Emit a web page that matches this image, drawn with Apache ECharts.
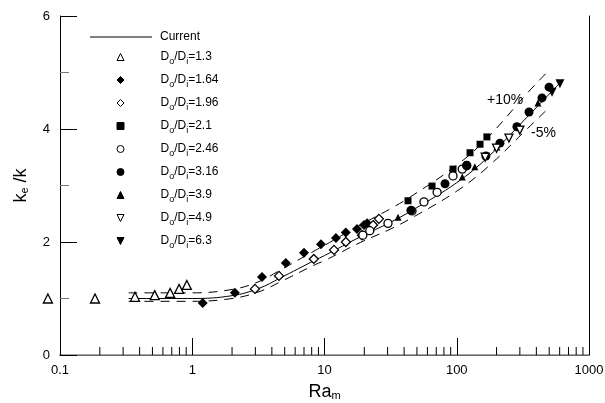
<!DOCTYPE html>
<html><head><meta charset="utf-8">
<script src="https://cdn.jsdelivr.net/npm/echarts@6/dist/echarts.min.js"></script>
<style>html,body{margin:0;padding:0;background:#fff}#c{width:605px;height:403px}</style>
</head><body><div id="c"></div>
<script>
// ---- data ----
const xTickLabels = ['0.1','1','10','100','1000'];
const yTickLabels = ['0','2','4','6'];
const xMinorTicks = [0.2,0.3,0.4,0.5,0.6,0.7,0.8,0.9,2,3,4,5,6,7,8,9,20,30,40,50,60,70,80,90,200,300,400,500,600,700,800,900];

const curveRa   = [0.33, 1, 2, 3.2, 4.6, 8.5, 10, 18.6, 31.6, 46.8, 100, 170, 340, 600];
const currentK  = [1.00, 1.00, 1.05, 1.18, 1.36, 1.68, 1.76, 2.09, 2.35, 2.57, 3.05, 3.49, 4.21, 4.81];
const bandRa    = [0.33, 1, 2, 3.2, 4.6, 8.5, 10, 18.6, 31.6, 46.8, 100, 170, 340, 480];
const upperK    = [1.10, 1.10, 1.16, 1.30, 1.50, 1.85, 1.94, 2.30, 2.59, 2.83, 3.36, 3.84, 4.63, 5.00];
const lowerK    = [0.95, 0.95, 1.00, 1.12, 1.29, 1.60, 1.67, 1.99, 2.23, 2.44, 2.90, 3.32, 4.00, 4.34];

const d13  = [[0.081,1.0],[0.184,1.0],[0.369,1.03],[0.52,1.06],[0.68,1.10],[0.795,1.17],[0.91,1.24]];
const d164 = [[1.2,0.92],[2.1,1.10],[3.37,1.38],[5.1,1.63],[7.0,1.81],[9.4,1.96],[12.2,2.07],[14.5,2.17],[17.6,2.23],[19.9,2.30],[21,2.33]];
const d196 = [[2.98,1.17],[4.53,1.40],[8.3,1.70],[11.8,1.86],[14.5,2.0],[19.2,2.12],[23.3,2.30],[25.8,2.41]];
const d21  = [[42.8,2.73],[65,2.99],[93.7,3.29],[126,3.58],[150,3.73],[169,3.86]];
const d246 = [[19.5,2.12],[22,2.2],[30.2,2.33],[45.9,2.55],[56.5,2.71],[71,2.88],[93.7,3.17],[110,3.29],[119,3.35]];
const d316 = [[45,2.56],[81.5,3.03],[119,3.36],[166,3.52],[212,3.75],[285,4.04],[352,4.30],[441,4.55],[499,4.74]];
const d39  = [[36,2.44],[110,3.15],[137,3.33],[201,3.68],[411,4.46]];
const d49  = [[164,3.5],[200,3.66],[248,3.84],[300,3.98]];
const d63  = [[525,4.65],[603,4.80]];

const legendNames = ['D{s|o}/D{s|i}=1.3','D{s|o}/D{s|i}=1.64','D{s|o}/D{s|i}=1.96','D{s|o}/D{s|i}=2.1','D{s|o}/D{s|i}=2.46','D{s|o}/D{s|i}=3.16','D{s|o}/D{s|i}=3.9','D{s|o}/D{s|i}=4.9','D{s|o}/D{s|i}=6.3'];

const zip = (xs, ys) => xs.map((x, i) => [x, ys[i]]);
const FONT = 'Liberation Sans, Arial, sans-serif';
const DOWN_TRI = 'path://M0,0 L10,0 L5,10 Z';

function sc(name, data, symbol, size, filled, rotate) {
  return {
    type: 'scatter', name, data, symbol, symbolSize: size, symbolRotate: rotate || 0,
    clip: false, z: 5,
    itemStyle: { color: filled ? '#000' : '#fff', borderColor: '#000', borderWidth: filled ? 0 : 1.3, opacity: 1 }
  };
}

const chart = echarts.init(document.getElementById('c'));
chart.setOption({
  animation: false,
  backgroundColor: '#fff',
  grid: { left: 60, right: 16, top: 16, bottom: 48, outerBoundsMode: 'none', containLabel: false },
  xAxis: [{
    type: 'log', logBase: 10, min: 0.1, max: 1000,
    axisLine: { lineStyle: { color: '#000', width: 1 } },
    axisTick: { inside: true, length: 17, lineStyle: { color: '#000' } },
    minorTick: { show: false },
    splitLine: { show: false },
    axisLabel: { color: '#000', fontFamily: FONT, fontSize: 13, margin: 9,
      formatter: (v) => { const i = Math.round(Math.log10(v)) + 1; return xTickLabels[i] || ''; } },
    name: 'Ra{s|m}', nameLocation: 'middle', nameGap: 28,
    nameTextStyle: { color: '#000', fontFamily: FONT, fontSize: 18,
      rich: { s: { fontSize: 11, verticalAlign: 'bottom', lineHeight: 10, fontFamily: FONT, color: '#000' } } }
  }, {
    type: 'log', logBase: 10, min: 0.1, max: 1000, position: 'top',
    axisLine: { lineStyle: { color: '#888', width: 1.5 } },
    axisTick: { show: false }, axisLabel: { show: false }, splitLine: { show: false }
  }],
  yAxis: [{
    type: 'value', min: 0, max: 6, interval: 2,
    axisLine: { show: true, lineStyle: { color: '#000', width: 1 } },
    axisTick: { inside: true, length: 17, lineStyle: { color: '#000' } },
    minorTick: { show: true, splitNumber: 2, length: 9, lineStyle: { color: '#777' } },
    splitLine: { show: false },
    axisLabel: { color: '#000', fontFamily: FONT, fontSize: 13, margin: 10,
      formatter: (v) => yTickLabels[Math.round(v / 2)] },
    name: 'k{s|e} /k', nameLocation: 'middle', nameGap: 30, nameRotate: 90,
    nameTextStyle: { color: '#000', fontFamily: FONT, fontSize: 18,
      rich: { s: { fontSize: 11, verticalAlign: 'bottom', lineHeight: 10, fontFamily: FONT, color: '#000' } } }
  }, {
    type: 'value', min: 0, max: 6, position: 'right',
    axisLine: { show: true, lineStyle: { color: '#000', width: 1 } },
    axisTick: { show: false }, axisLabel: { show: false }, splitLine: { show: false }
  }],
  legend: [{
    left: 85, top: 26, itemWidth: 62, itemHeight: 1, icon: 'rect',
    data: ['Current'],
    formatter: (n) => '{sp|}' + n,
    textStyle: { color: '#000', fontFamily: FONT, fontSize: 12, rich: { sp: { width: 3 } } }
  }, {
    orient: 'vertical', left: 111.5, top: 43, itemWidth: 7, itemHeight: 7, itemGap: 5,
    itemStyle: { borderWidth: 1 },
    data: legendNames.map((n, i) => i >= 7 ? { name: n, icon: DOWN_TRI } : n),
    formatter: (n) => '{sp|}' + n,
    textStyle: { color: '#000', fontFamily: FONT, fontSize: 12, lineHeight: 18,
      rich: { sp: { width: 31.5 },
              s: { fontSize: 9, verticalAlign: 'bottom', lineHeight: 9, fontFamily: FONT, color: '#000' } } }
  }],
  graphic: [
    { type: 'text', left: 487, top: 93, style: { text: '+10%', fontFamily: FONT, fontSize: 14, fill: '#000' } },
    { type: 'text', left: 531, top: 126, style: { text: '-5%', fontFamily: FONT, fontSize: 14, fill: '#000' } }
  ],
  series: [
    { type: 'line', name: 'Current', data: zip(curveRa, currentK), smooth: 0.4, symbol: 'none', z: 3,
      lineStyle: { color: '#000', width: 1 }, itemStyle: { color: '#000' } },
    { type: 'line', name: 'upper', data: zip(bandRa, upperK), smooth: 0.4, symbol: 'none', z: 3,
      lineStyle: { color: '#000', width: 1, type: [9, 7] } },
    { type: 'line', name: 'lower', data: zip(bandRa, lowerK), smooth: 0.4, symbol: 'none', z: 3,
      lineStyle: { color: '#000', width: 1, type: [9, 7] } },
    sc(legendNames[0], d13, 'triangle', 9, false),
    sc(legendNames[1], d164, 'diamond', 10, true),
    sc(legendNames[2], d196, 'diamond', 9, false),
    sc(legendNames[3], d21, 'rect', 7, true),
    sc(legendNames[4], d246, 'circle', 8, false),
    sc(legendNames[5], d316, 'circle', 9, true),
    sc(legendNames[6], d39, 'triangle', 7, true),
    sc(legendNames[7], d49, 'triangle', 8, false, 180),
    sc(legendNames[8], d63, 'triangle', 9, true, 180),
    { type: 'custom', name: 'minorTicks', data: xMinorTicks.map(v => [v, 0]), z: 4, silent: true,
      renderItem: (params, api) => {
        const p = api.coord([api.value(0), 0]);
        return { type: 'line', shape: { x1: p[0], y1: p[1], x2: p[0], y2: p[1] - 8 },
          style: { stroke: '#000', lineWidth: 1 } };
      } }
  ]
});
</script></body></html>
